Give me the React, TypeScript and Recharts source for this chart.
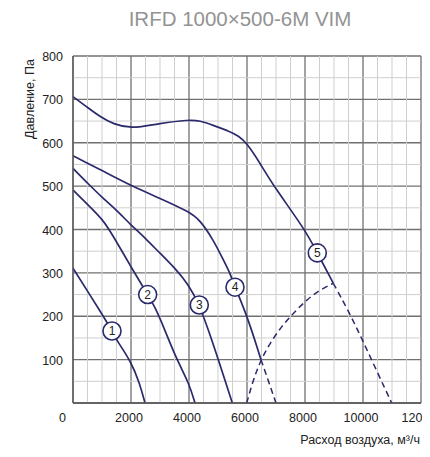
import React from 'react';
import { ComposedChart, Line, Scatter, XAxis, YAxis, CartesianGrid, Label, ReferenceLine } from 'recharts';

const TITLE = 'IRFD 1000×500-6M VIM';
const Y_LABEL = 'Давление, Па';
const X_LABEL = 'Расход воздуха, м³/ч';

const xTicks = [0, 2000, 4000, 6000, 8000, 10000, 12000];
const yTicks = [0, 100, 200, 300, 400, 500, 600, 700, 800];
const minorX = [500, 1000, 1500, 2500, 3000, 3500, 4500, 5000, 5500, 6500, 7000, 7500, 8500, 9000, 9500, 10500, 11000, 11500];
const minorY = [50, 150, 250, 350, 450, 550, 650, 750];

const c1X = [0, 500, 1000, 1345, 1500, 2000, 2300, 2483];
const c1Y = [311, 258, 205, 166, 145, 96, 45, 0];

const c2X = [0, 500, 1045, 1391, 1793, 2000, 2196, 2575, 2828, 3115, 3575, 4000, 4207];
const c2Y = [491, 458, 422, 384, 338, 314, 292, 250, 221, 177, 100, 46, 0];

const c3X = [0, 500, 1000, 1500, 2000, 2500, 3000, 3500, 4000, 4355, 4665, 5012, 5494];
const c3Y = [541, 507, 474, 445, 410, 380, 345, 312, 272, 226, 169, 100, 0];

const c4X = [0, 500, 1000, 2000, 3000, 4000, 4379, 4838, 5183, 5413, 5586, 6010, 6483];
const c4Y = [570, 553, 536, 501, 472, 441, 422, 376, 330, 300, 267, 200, 100];
const c4dX = [6483, 7000];
const c4dY = [100, 0];

const c5X = [0, 472, 931, 1390, 2000, 3000, 4000, 4379, 4838, 5413, 5700, 5989, 6450, 6907, 8010, 8424, 8976];
const c5Y = [706, 683, 660, 643, 632, 645, 653, 651, 640, 626, 616, 600, 553, 501, 399, 346, 276];
const c5dX = [8976, 9500, 9977, 10500, 10990];
const c5dY = [276, 212, 146, 70, 0];

const limX = [5990, 6217, 6483, 6793, 7196, 7597, 8058, 8517, 8976];
const limY = [0, 54, 100, 138, 177, 207, 238, 261, 276];

const tagNames = ['1', '2', '3', '4', '5'];
const tagX = [1345, 2575, 4355, 5586, 8424];
const tagY = [166, 250, 226, 267, 346];

const pts = (xs: number[], ys: number[]) => xs.map((x, i) => ({ x, y: ys[i] }));
const tags = tagNames.map((label, i) => ({ x: tagX[i], y: tagY[i], label }));

const NAVY = '#2a2a6c';
const FONT = '"Liberation Sans", Arial, Helvetica, sans-serif';

const XTick = (props: any) => {
  const { x, y, payload } = props;
  const isZero = payload.value === 0;
  return (
    <text x={isZero ? x - 7 : x - 2} y={y} dy={10.7} textAnchor={isZero ? 'end' : 'middle'}
      fontFamily={FONT} fontSize={12.5} fill="#222">{payload.value}</text>
  );
};

const YTick = (props: any) => {
  const { x, y, payload } = props;
  if (payload.value === 0) return null;
  return (
    <text x={x + 2} y={y} dy={5} textAnchor="end" fontFamily={FONT} fontSize={12.5} fill="#222">
      {payload.value}
    </text>
  );
};

const TagShape = (props: any) => {
  const { cx, cy, payload } = props;
  return (
    <g>
      <circle cx={cx} cy={cy} r={9} fill="#fff" stroke={NAVY} strokeWidth={1.6} />
      <text x={cx} y={cy} dy={4.3} textAnchor="middle" fontFamily={FONT} fontSize={12} fill="#222">
        {payload.label}
      </text>
    </g>
  );
};

const lineProps = {
  type: 'basis' as const,
  dataKey: 'y',
  stroke: NAVY,
  strokeWidth: 1.7,
  dot: false,
  activeDot: false,
  isAnimationActive: false,
  legendType: 'none' as const,
};

export default function App() {
  return (
    <div style={{ position: 'relative', width: 422, height: 449 }}>
      <svg width={422} height={449} style={{ position: 'absolute', left: 0, top: 0, pointerEvents: 'none' }}>
        <text x={232} y={18} textAnchor="middle" fontFamily={FONT} fontSize={20.5} fill="#939393">
          {TITLE}
        </text>
      </svg>
      <ComposedChart width={422} height={449} margin={{ top: 48, right: 9, left: 5, bottom: 24 }}>
        {minorX.map((v) => (
          <ReferenceLine key={'mx' + v} x={v} stroke="#cfcfcf" strokeWidth={1} ifOverflow="hidden" />
        ))}
        {minorY.map((v) => (
          <ReferenceLine key={'my' + v} y={v} stroke="#cfcfcf" strokeWidth={1} ifOverflow="hidden" />
        ))}
        <CartesianGrid stroke="#707070" strokeWidth={1.3} fill="none" />
        <XAxis type="number" dataKey="x" domain={[0, 12000]} ticks={xTicks} interval={0}
          axisLine={{ stroke: '#555', strokeWidth: 1.3 }} tickLine={false} tickSize={6} tickMargin={2}
          tick={<XTick />} height={30} allowDataOverflow>
          <Label content={(p: any) => {
            const vb = p.viewBox;
            return (
              <text x={vb.x + vb.width - 1} y={vb.y + 41} textAnchor="end" fontFamily={FONT} fontSize={12.5} fill="#222">
                {X_LABEL}
              </text>
            );
          }} />
        </XAxis>
        <YAxis type="number" domain={[0, 800]} ticks={yTicks} interval={0}
          axisLine={{ stroke: '#555', strokeWidth: 1.3 }} tickLine={false} tickSize={6} tickMargin={6}
          tick={<YTick />} width={60} allowDataOverflow>
          <Label content={(p: any) => {
            const vb = p.viewBox;
            const cx = vb.x + 17;
            const cy = vb.y + 43;
            return (
              <text x={cx} y={cy} transform={`rotate(-90, ${cx}, ${cy})`} textAnchor="middle"
                dominantBaseline="central" fontFamily={FONT} fontSize={12.5} fill="#222">
                {Y_LABEL}
              </text>
            );
          }} />
        </YAxis>
        <Line {...lineProps} data={pts(c1X, c1Y)} />
        <Line {...lineProps} data={pts(c2X, c2Y)} />
        <Line {...lineProps} data={pts(c3X, c3Y)} />
        <Line {...lineProps} data={pts(c4X, c4Y)} />
        <Line {...lineProps} data={pts(c4dX, c4dY)} strokeDasharray="6 4" strokeWidth={1.5} />
        <Line {...lineProps} data={pts(c5X, c5Y)} />
        <Line {...lineProps} data={pts(c5dX, c5dY)} strokeDasharray="6 4" strokeWidth={1.5} />
        <Line {...lineProps} data={pts(limX, limY)} strokeDasharray="6 4" strokeWidth={1.5} />
        <Scatter data={tags} dataKey="y" shape={<TagShape />} isAnimationActive={false} legendType="none" />
      </ComposedChart>
    </div>
  );
}
